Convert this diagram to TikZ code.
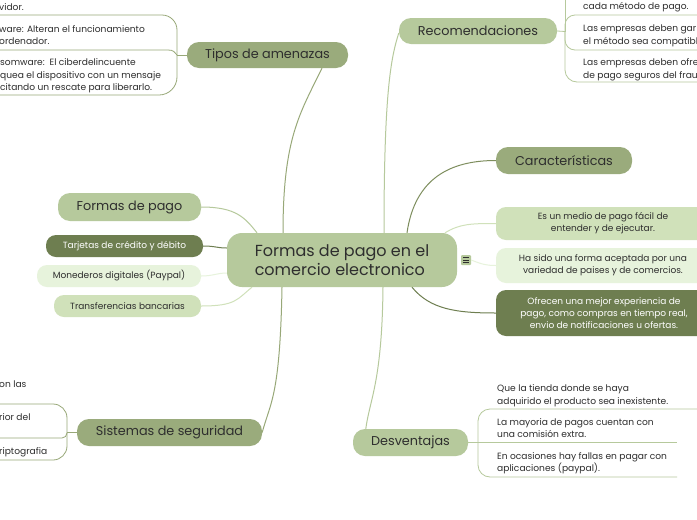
\documentclass[tikz,border=0pt]{standalone}
\usepackage{fontspec}
\setmainfont{Poppins}
\usetikzlibrary{calc}
\definecolor{cSage}{HTML}{B6C99C}
\definecolor{cMid}{HTML}{9AAB7C}
\definecolor{cDark}{HTML}{6E7E50}
\definecolor{cLight}{HTML}{D0E1BA}
\definecolor{cPale}{HTML}{E7F3DC}
\definecolor{cText}{HTML}{2E2E2E}
\definecolor{cLineMid}{HTML}{98A878}
\definecolor{cLineDark}{HTML}{7E8E5E}
\tikzset{
  topic/.style={rectangle, rounded corners=12pt, inner sep=0pt, text=cText,
    font=\fontsize{12.8}{15}\selectfont},
  sub/.style={rectangle, rounded corners=10pt, inner sep=0pt, text=cText,
    font=\fontsize{9}{12}\selectfont, align=center},
  leaf/.style={inner sep=0pt, text=cText, font=\fontsize{9.1}{12.4}\selectfont, align=left},
  conn/.style={line width=1pt},
  brk/.style={line width=0.8pt}
}
\begin{document}
\begin{tikzpicture}[x=1pt,y=-1pt]
\useasboundingbox (0,0) rectangle (697,520);
\fill[white] (0,0) rectangle (697,520);

% central node
\node[rectangle, rounded corners=15pt, fill=cSage, minimum width=230pt, minimum height=54pt,
  inner sep=0pt, text=cText, align=left, font=\fontsize{16}{19.5}\selectfont] (c) at (342,260)
  {Formas de pago en el\\comercio electronico};

% main topics
\node[topic, fill=cMid, minimum width=161pt, minimum height=26pt] (t) at (267.5,55) {Tipos de amenazas};
\node[topic, fill=cSage, minimum width=158pt, minimum height=26pt] (r) at (478,31) {Recomendaciones};
\node[topic, fill=cMid, minimum width=136pt, minimum height=27pt] (ca) at (564,160.5) {Características};
\node[topic, fill=cSage, minimum width=143pt, minimum height=28pt] (fp) at (129.5,207) {Formas de pago};
\node[sub, fill=cDark, text=white, minimum width=157pt, minimum height=22pt] (tj) at (124.5,246) {Tarjetas de crédito y débito};
\node[sub, fill=cPale, minimum width=164pt, minimum height=22pt] (mo) at (119,276) {Monederos digitales (Paypal)};
\node[sub, fill=cLight, minimum width=147pt, minimum height=22pt] (tr) at (127.5,306) {Transferencias bancarias};
\node[sub, fill=cLight, minimum width=214pt, minimum height=33pt] (e) at (603,223.5) {Es un medio de pago fácil de\\entender y de ejecutar.};
\node[sub, fill=cPale, minimum width=214pt, minimum height=35pt] (h) at (603,265.5) {Ha sido una forma aceptada por una\\variedad de paises y de comercios.};
\node[sub, fill=cDark, text=white, minimum width=216pt, minimum height=46pt] (o) at (604,313) {Ofrecen una mejor experiencia de\\pago, como compras en tiempo real,\\envio de notificaciones u ofertas.};
\node[topic, fill=cMid, minimum width=185pt, minimum height=27pt] (s) at (169.5,432.5) {Sistemas de seguridad};
\node[topic, fill=cSage, minimum width=115pt, minimum height=27pt] (d) at (410.5,442.5) {Desventajas};

% icon
\node[rectangle, fill=cSage, minimum width=10pt, minimum height=10pt, inner sep=0pt, rounded corners=1pt] (ic) at (466,260) {};
\foreach \yy in {-2.5,0,2.5} \draw[cText, line width=0.6pt] ($(ic.center)+(-2.8,\yy)$) -- ($(ic.center)+(2.8,\yy)$);

% connectors center -> topics
\draw[conn, cLineMid] ($(c.north)+(-59,0)$) .. controls +(0,-95) and +(-22,45) .. ($(t.south)+(54.5,0)$);
\draw[conn, cSage] ($(c.north)+(42,0)$) .. controls +(0,-140) and +(-8,25) .. ($(r.west)+(0,2)$);
\draw[conn, cLineDark] ($(c.north)+(65,0)$) .. controls +(8,-55) and +(-45,0) .. (ca.west);
\draw[conn, cLight] ($(c.north)+(103,0)$) .. controls +(15,-9) and +(-25,0) .. (e.west);
\draw[conn, cPale] (ic.east) .. controls +(10,4) and +(-10,0) .. (h.west);
\draw[conn, cDark] ($(c.south)+(70,0)$) .. controls +(18,22) and +(-40,0) .. (o.west);
\draw[conn, cSage] (fp.east) .. controls +(35,0) and +(-12,-15) .. ($(c.north)+(-85,0)$);
\draw[conn, cDark] (tj.east) .. controls +(12,0) and +(-10,0) .. ($(c.west)+(0,-12)$);
\draw[conn, cPale] (mo.east) .. controls +(12,0) and +(-10,0) .. ($(c.west)+(0,13)$);
\draw[conn, cLight] (tr.east) .. controls +(35,0) and +(-15,12) .. ($(c.south)+(-90,0)$);
\draw[conn, cLineMid] ($(c.south)+(-60,0)$) .. controls +(-2,110) and +(8,-30) .. (s.east);
\draw[conn, cSage] ($(c.south)+(41,0)$) .. controls +(-1,95) and +(4,-30) .. ($(d.north west)+(13,0)$);

% ---- Tipos de amenazas children
\coordinate (tjn) at (177,55);
\draw[brk, cLineMid] (t.west) -- (tjn);
\draw[brk, cLineMid, rounded corners=15pt] (tjn) -- (177,15) -- (-5,15);
\draw[brk, cLineMid] (tjn) .. controls (174,52) and (174,50) .. (168,50) -- (-5,50);
\draw[brk, cLineMid, rounded corners=18pt] (tjn) -- (177,95) -- (-5,95);
\node[leaf, anchor=west] (t1) at (-1,7) {vidor.};
\node[leaf, anchor=north west] (t2) at (-1,25) {ware: Alteran el funcionamiento\\ordenador.};
\node[leaf, anchor=north west] (t3) at (0,58.5) {somware:\ \ El ciberdelincuente\\quea el dispositivo con un mensaje\\citando un rescate para liberarlo.};

% ---- Recomendaciones children
\coordinate (rjn) at (565,31.5);
\draw[brk, cSage] (r.east) -- (rjn);
\draw[brk, cSage] (rjn) -- (565,-5);
\draw[brk, cSage, rounded corners=10pt] (rjn) -- (565,15) -- (705,15);
\draw[brk, cSage, rounded corners=10pt] (rjn) -- (565,50) -- (705,50);
\draw[brk, cSage, rounded corners=12pt] (rjn) -- (565,82) -- (705,82);
\node[leaf, anchor=west] (r1) at (583,7) {cada método de pago.};
\node[leaf, anchor=north west] (r2) at (583,25) {Las empresas deben gar\\el método sea compatibl};
\node[leaf, anchor=north west] (r3) at (583,58.5) {Las empresas deben ofre\\de pago seguros del frau};

% ---- Sistemas children
\coordinate (sjn) at (67,432.5);
\draw[brk, cLineMid] (s.west) -- (sjn);
\draw[brk, cLineMid, rounded corners=14pt] (sjn) -- (67,404) -- (-5,404);
\draw[brk, cLineMid, rounded corners=5pt] (sjn) -- (67,438) -- (-5,438);
\draw[brk, cLineMid, rounded corners=14pt] (sjn) -- (67,460) -- (-5,460);
\node[leaf, anchor=west] (s1) at (-1,384.5) {on las};
\node[leaf, anchor=west] (s2) at (-1,417.5) {rior del};
\node[leaf, anchor=west] (s3) at (-1,452.5) {riptografia};

% ---- Desventajas children
\coordinate (djn) at (478,442.5);
\draw[brk, cSage] (d.east) -- (djn) -- (677,442.5);
\draw[brk, cSage, rounded corners=12pt] (djn) -- (478,409) -- (705,409);
\draw[brk, cSage, rounded corners=12pt] (djn) -- (478,477) -- (677,477);
\node[leaf, anchor=north west] (d1) at (497,384.5) {Que la tienda donde se haya\\adquirido el producto sea inexistente.};
\node[leaf, anchor=north west] (d2) at (497,418) {La mayoria de pagos cuentan con\\una comisión extra.};
\node[leaf, anchor=north west] (d3) at (497,452) {En ocasiones hay fallas en pagar con\\aplicaciones (paypal).};
\end{tikzpicture}
\end{document}
